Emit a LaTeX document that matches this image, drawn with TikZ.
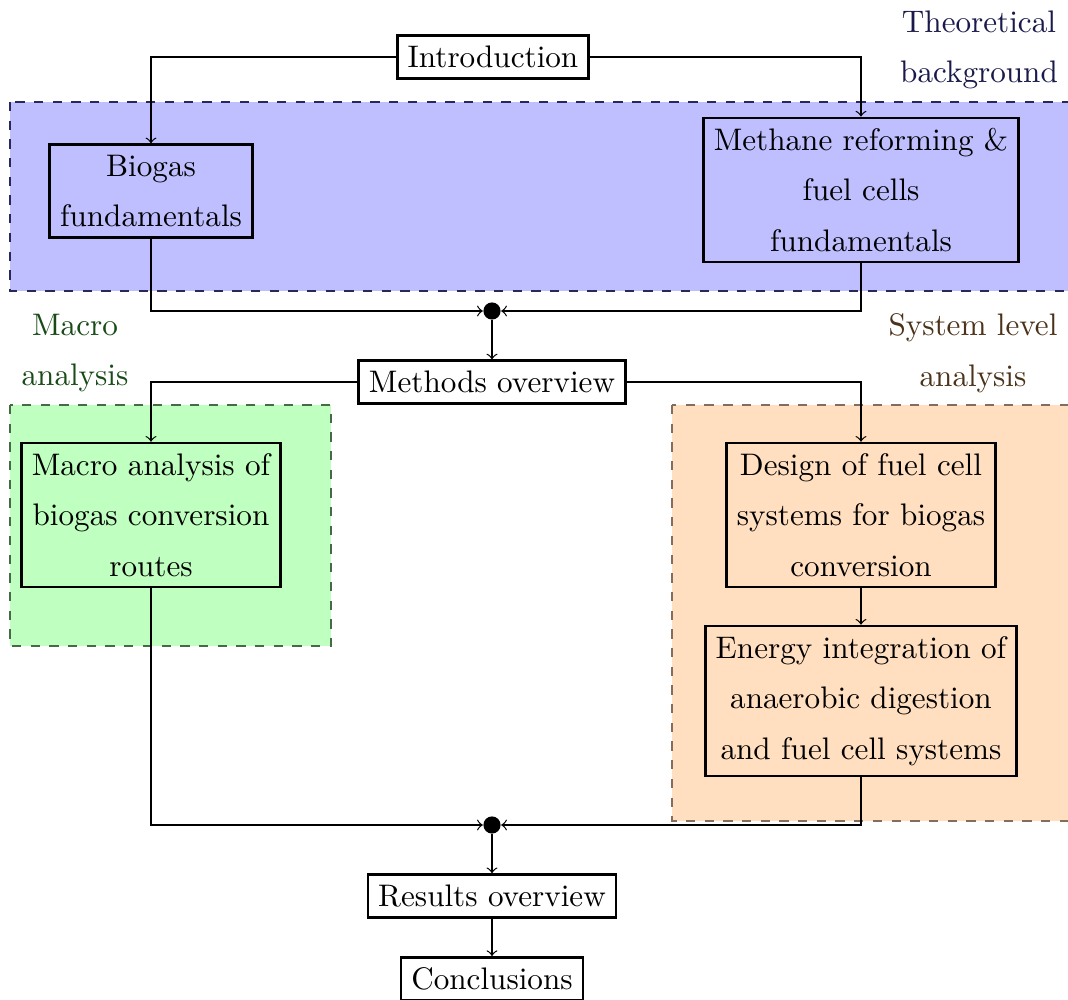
\documentclass[tikz,border=0pt]{standalone}
\usetikzlibrary{calc}
\definecolor{regblue}{RGB}{191,191,255}
\definecolor{reggreen}{RGB}{191,255,191}
\definecolor{regorange}{RGB}{255,223,191}
\definecolor{edgeblue}{RGB}{40,40,90}
\definecolor{edgegreen}{RGB}{70,105,70}
\definecolor{edgeorange}{RGB}{130,110,95}
\definecolor{txtblue}{RGB}{25,25,75}
\definecolor{txtgreen}{RGB}{25,75,25}
\definecolor{txtbrown}{RGB}{75,50,25}
\tikzset{
  box/.style={draw, thick, align=center, font=\linespread{1.35}\selectfont, inner sep=0.333em},
  dotnode/.style={circle, fill, inner sep=0pt, minimum size=5.5pt},
  conn/.style={draw, ->},
  lbl/.style={align=center, font=\linespread{1.35}\selectfont},
  region/.style={dashed}
}
\begin{document}
\begin{tikzpicture}[x=0.321pt,y=-0.321pt]
\useasboundingbox (0,0) rectangle (1068,1000);
\clip (0,0) rectangle (1068,1000);
% regions
\path[region, fill=regblue, draw=edgeblue] (10,102) rectangle (1090,291);
\path[region, fill=reggreen, draw=edgegreen] (10,405) rectangle (331,646);
\path[region, fill=regorange, draw=edgeorange] (672,405) rectangle (1090,821);
% labels
\node[lbl, text=txtblue] (tb) at (979,50) {Theoretical\\background};
\node[lbl, text=txtgreen] (ma) at (75,353) {Macro\\analysis};
\node[lbl, text=txtbrown] (sla) at (973,353) {System level\\analysis};
% nodes
\node[box] (intro) at (493,57) {Introduction};
\node[box] (biogas) at (151,191) {Biogas\\fundamentals};
\node[box] (methane) at (861,190) {Methane reforming \&\\fuel cells\\fundamentals};
\node[dotnode] (d1) at (492,311) {};
\node[box] (methods) at (492,382) {Methods overview};
\node[box] (macro) at (151,515) {Macro analysis of\\biogas conversion\\routes};
\node[box] (design) at (861,515) {Design of fuel cell\\systems for biogas\\conversion};
\node[box] (energy) at (861,701) {Energy integration of\\anaerobic digestion\\and fuel cell systems};
\node[dotnode] (d2) at (492,825) {};
\node[box] (results) at (492,896) {Results overview};
\node[box] (concl) at (492,979) {Conclusions};
% connectors
\draw[conn] (intro.west) -| (biogas.north);
\draw[conn] (intro.east) -| (methane.north);
\draw[conn] (biogas.south) |- (d1);
\draw[conn] (methane.south) |- (d1);
\draw[conn] (d1) -- (methods);
\draw[conn] (methods.west) -| (macro.north);
\draw[conn] (methods.east) -| (design.north);
\draw[conn] (design) -- (energy);
\draw[conn] (macro.south) |- (d2);
\draw[conn] (energy.south) |- (d2);
\draw[conn] (d2) -- (results);
\draw[conn] (results) -- (concl);
\end{tikzpicture}
\end{document}
